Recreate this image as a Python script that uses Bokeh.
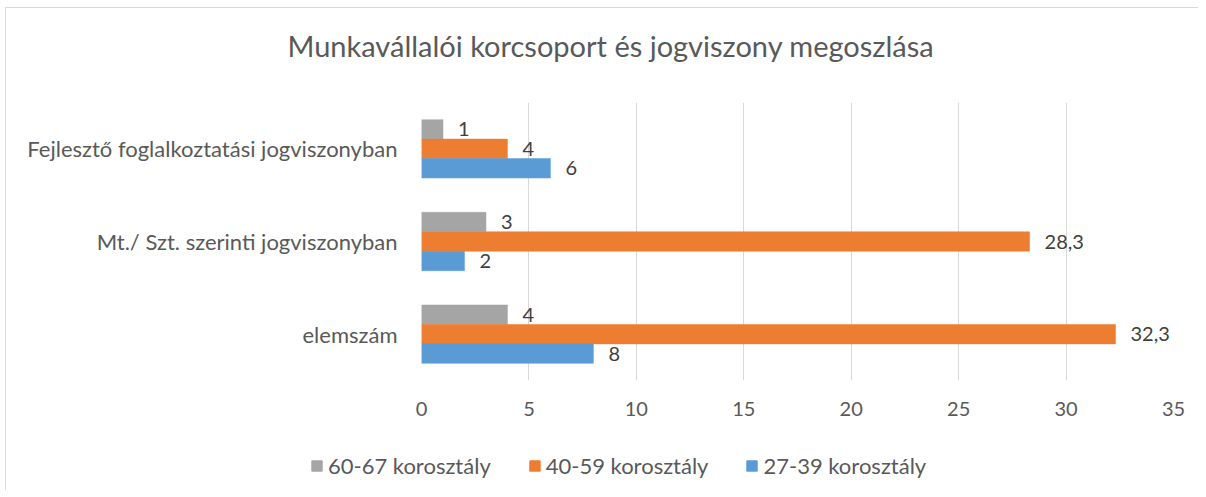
from bokeh.plotting import figure
from bokeh.layouts import column
from bokeh.models import (ColumnDataSource, Range1d, FactorRange, Legend, LegendItem,
                          FixedTicker, Title)
from bokeh.transform import dodge
from bokeh.core.properties import value
from bokeh.embed import file_html
from bokeh.resources import INLINE

# ---- data ----
title_text = "Munkavállalói korcsoport és jogviszony megoszlása"
categories = ["elemszám", "Mt./ Szt. szerinti jogviszonyban", "Fejlesztő foglalkoztatási jogviszonyban"]
series_names = ["60-67 korosztály", "40-59 korosztály", "27-39 korosztály"]
age_60_67 = [4, 3, 1]
age_40_59 = [32.3, 28.3, 4]
age_27_39 = [8, 2, 6]
x_ticks = [0, 5, 10, 15, 20, 25, 30, 35]

def fmt(v):
    return f"{v:g}".replace(".", ",")

src = ColumnDataSource(dict(
    cat=categories,
    a=age_60_67, b=age_40_59, c=age_27_39,
    la=[fmt(v) for v in age_60_67],
    lb=[fmt(v) for v in age_40_59],
    lc=[fmt(v) for v in age_27_39],
))

FONT = "Lato"
GRAY_TXT = "#595959"
colors = ["#A5A5A5", "#ED7D31", "#5B9BD5"]
W = 1192

p = figure(
    y_range=FactorRange(factors=categories, range_padding=0),
    x_range=Range1d(0, 35),
    width=W, height=422,
    min_border_left=415, min_border_right=25, min_border_top=92, min_border_bottom=50,
    output_backend="svg", toolbar_location=None,
)
p.outline_line_color = None
p.background_fill_color = "white"
p.border_fill_color = "white"

bw = 0.21
offs = [bw, 0.0, -bw]
for col, lab, off, color in zip(["a", "b", "c"], ["la", "lb", "lc"], offs, colors):
    p.hbar(y=dodge("cat", off, range=p.y_range), left=0, right=col, height=bw,
           source=src, fill_color=color, line_color=color, line_width=0.5)
    p.text(x=col, y=dodge("cat", off, range=p.y_range), text=lab, source=src,
           x_offset=15, text_baseline="middle", text_align="left",
           text_font=value(FONT), text_font_size="20px", text_color="#404040")

# axes
p.xaxis.ticker = FixedTicker(ticks=x_ticks)
p.xaxis.axis_line_color = None
p.xaxis.major_tick_line_color = None
p.xaxis.minor_tick_line_color = None
p.xaxis.major_label_text_font = FONT
p.xaxis.major_label_text_font_size = "20px"
p.xaxis.major_label_text_color = GRAY_TXT
p.xaxis.major_label_standoff = 15

p.yaxis.axis_line_color = None
p.yaxis.major_tick_line_color = None
p.yaxis.major_label_text_font = FONT
p.yaxis.major_label_text_font_size = "22px"
p.yaxis.major_label_text_color = GRAY_TXT
p.yaxis.major_label_standoff = 18

p.xgrid.grid_line_color = "#d9d9d9"
p.xgrid.grid_line_width = 1
p.ygrid.grid_line_color = None

# title (a small spacer title sits between the main title and the frame)
p.add_layout(Title(text=" ", text_font_size="1px", standoff=20), "above")
main_title = Title(text=title_text, align="left", offset=-134, standoff=34,
                   text_font=FONT, text_font_size="29px", text_font_style="normal",
                   text_color=GRAY_TXT)
p.add_layout(main_title, "above")

# legend strip (separate figure so the legend can sit left of the plot frame)
LH = 60
leg = figure(width=W, height=LH, x_range=Range1d(0, W), y_range=Range1d(0, LH),
             min_border=0, output_backend="svg", toolbar_location=None,
             x_axis_location=None, y_axis_location=None)
leg.outline_line_color = None
leg.xgrid.visible = False
leg.ygrid.visible = False

unaligned = True
try:
    p.frame_align = False
    leg.frame_align = False
except Exception:
    unaligned = False

# zero-size proxy bars, used only to give the legend its coloured squares
leg_renderers = [leg.hbar(y=[0], left=[0], right=[0], height=0,
                          fill_color=c, line_color=c) for c in colors]
legend = Legend(items=[LegendItem(label=n, renderers=[r]) for n, r in zip(series_names, leg_renderers)],
                orientation="horizontal", location=(304, 11) if unaligned else (0, 11),
                glyph_width=13, glyph_height=13, label_standoff=5, spacing=37,
                padding=0, margin=0, border_line_color=None, background_fill_alpha=0,
                label_text_font=FONT, label_text_font_size="22px", label_text_color=GRAY_TXT)
leg.add_layout(legend, "center")

layout = column(p, leg, spacing=0)
layout.styles = {"border-left": "1px solid #d9d9d9", "border-top": "1px solid #d9d9d9",
                 "margin-left": "5px", "margin-top": "7px"}

open("out.html", "w").write(file_html(layout, INLINE))
